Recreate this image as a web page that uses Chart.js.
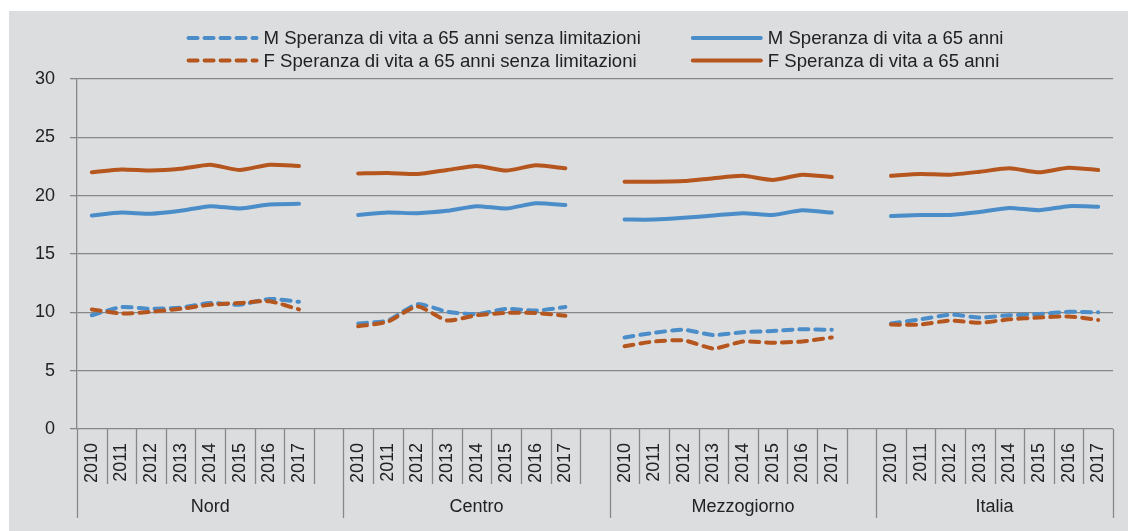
<!DOCTYPE html>
<html>
<head>
<meta charset="utf-8">
<script src="https://cdn.jsdelivr.net/npm/chart.js@4.4.0/dist/chart.umd.min.js"></script>
<style>
  html, body { margin: 0; padding: 0; background: #fff; }
  #wrap { width: 1128px; height: 531px; }
</style>
</head>
<body>
<div id="wrap"><canvas id="chart" width="1128" height="531"></canvas></div>
<script>
// data
const regions = ["Nord", "Centro", "Mezzogiorno", "Italia"];
const years = ["2010", "2011", "2012", "2013", "2014", "2015", "2016", "2017"];

const mSenzaLim = [
  [9.75, 10.45, 10.3, 10.4, 10.8, 10.65, 11.15, 10.9],
  [9.05, 9.3, 10.7, 10.05, 9.85, 10.3, 10.15, 10.45],
  [7.85, 8.25, 8.5, 8.05, 8.3, 8.4, 8.55, 8.5],
  [9.05, 9.4, 9.8, 9.55, 9.75, 9.85, 10.05, 10.0]
];
const mTotale = [
  [18.3, 18.55, 18.45, 18.7, 19.1, 18.9, 19.25, 19.3],
  [18.35, 18.55, 18.5, 18.7, 19.1, 18.9, 19.35, 19.2],
  [17.95, 17.95, 18.1, 18.3, 18.5, 18.35, 18.75, 18.55],
  [18.25, 18.35, 18.35, 18.6, 18.95, 18.75, 19.1, 19.05]
];
const fSenzaLim = [
  [10.25, 9.9, 10.05, 10.3, 10.65, 10.8, 10.95, 10.25],
  [8.8, 9.2, 10.5, 9.3, 9.75, 9.95, 9.95, 9.7],
  [7.1, 7.5, 7.6, 6.9, 7.5, 7.4, 7.5, 7.85],
  [8.95, 8.95, 9.3, 9.1, 9.4, 9.55, 9.65, 9.35]
];
const fTotale = [
  [22.0, 22.25, 22.15, 22.3, 22.65, 22.2, 22.65, 22.55],
  [21.9, 21.95, 21.85, 22.2, 22.55, 22.15, 22.6, 22.35],
  [21.2, 21.2, 21.25, 21.5, 21.7, 21.35, 21.8, 21.6],
  [21.7, 21.85, 21.8, 22.05, 22.35, 22.0, 22.4, 22.2]
];

const BLUE = "#4a8dc8";
const ORANGE = "#b6561f";
const GRID = "#878787";
const TEXT = "#222";
const FONT = '"Liberation Sans", Arial, sans-serif';

// flatten the groups, leaving an empty slot between regions
const labels = [];
regions.forEach((r, i) => {
  years.forEach(y => labels.push(y));
  if (i < regions.length - 1) labels.push("");
});
const flatten = (groups) => {
  const out = [];
  groups.forEach((g, i) => {
    g.forEach(v => out.push(v));
    if (i < groups.length - 1) out.push(null);
  });
  return out;
};

const makeSet = (label, data, color, dashed, order) => ({
  label: label,
  data: flatten(data),
  borderColor: color,
  backgroundColor: color,
  borderWidth: 4,
  borderDash: dashed ? [9, 7] : [],
  borderCapStyle: "round",
  borderJoinStyle: "round",
  pointRadius: 0,
  tension: 0.2,
  spanGaps: false,
  order: order
});

const datasets = [
  makeSet("M Speranza di vita a 65 anni senza limitazioni", mSenzaLim, BLUE, true, 1),
  makeSet("M Speranza di vita a 65 anni", mTotale, BLUE, false, 1),
  makeSet("F Speranza di vita a 65 anni senza limitazioni", fSenzaLim, ORANGE, true, 0),
  makeSet("F Speranza di vita a 65 anni", fTotale, ORANGE, false, 0)
];

// gray panel behind everything
const panelBg = {
  id: "panelBg",
  beforeDraw(chart) {
    const ctx = chart.ctx;
    ctx.save();
    ctx.fillStyle = "#fff";
    ctx.fillRect(0, 0, chart.width, chart.height);
    ctx.fillStyle = "#dcdddf";
    ctx.fillRect(9, 11, chart.width - 9, chart.height - 11);
    ctx.restore();
  }
};

// two column legend at the top
const legendGrid = {
  id: "legendGrid",
  afterDraw(chart) {
    const ctx = chart.ctx;
    const sets = chart.data.datasets;
    ctx.save();
    ctx.font = "18.6px " + FONT;
    const sample = 70, gap = 7, colGap = 50;
    const colW = [0, 1].map(c => sample + gap + Math.max(
      ctx.measureText(sets[c].label).width,
      ctx.measureText(sets[c + 2].label).width));
    const total = colW[0] + colGap + colW[1];
    const area = chart.chartArea;
    let x0 = (area.left + area.right) / 2 - total / 2;
    const rowsY = [38, 60.5];
    [0, 1].forEach(c => {
      [0, 1].forEach(r => {
        const ds = sets[r * 2 + c];
        const y = rowsY[r];
        ctx.strokeStyle = ds.borderColor;
        ctx.lineWidth = 4;
        ctx.lineCap = "round";
        ctx.setLineDash(ds.borderDash);
        ctx.beginPath();
        ctx.moveTo(x0 + 2, y);
        ctx.lineTo(x0 + sample, y);
        ctx.stroke();
        ctx.setLineDash([]);
        ctx.fillStyle = TEXT;
        ctx.textBaseline = "middle";
        ctx.textAlign = "left";
        ctx.fillText(ds.label, x0 + sample + gap, y + 1);
      });
      x0 += colW[c] + colGap;
    });
    ctx.restore();
  }
};

// year separators and region labels under the x axis
const groupAxis = {
  id: "groupAxis",
  afterDraw(chart) {
    const ctx = chart.ctx;
    const xs = chart.scales.x;
    const bottom = chart.chartArea.bottom;
    const n = labels.length;
    const w = xs.getPixelForValue(1) - xs.getPixelForValue(0);
    const edge = (i) => xs.getPixelForValue(0) + (i - 0.5) * w;
    ctx.save();
    ctx.strokeStyle = GRID;
    ctx.lineWidth = 1.3;
    for (let i = 0; i <= n; i++) {
      const long = i === 0 || i === n || labels[i - 1] === "";
      const x = Math.round(edge(i)) + 0.5;
      ctx.beginPath();
      ctx.moveTo(x, bottom);
      ctx.lineTo(x, long ? 518 : 484);
      ctx.stroke();
    }
    ctx.fillStyle = TEXT;
    ctx.font = "18px " + FONT;
    ctx.textAlign = "center";
    ctx.textBaseline = "middle";
    regions.forEach((r, k) => {
      const a = k * (years.length + 1);
      const b = k === regions.length - 1 ? n : a + years.length + 1;
      ctx.fillText(r, (edge(a) + edge(b)) / 2, 507);
    });
    ctx.restore();
  }
};

new Chart(document.getElementById("chart"), {
  type: "line",
  data: { labels: labels, datasets: datasets },
  options: {
    responsive: false,
    animation: false,
    devicePixelRatio: 1,
    layout: { padding: { top: 79, right: 15, left: 0, bottom: 0 } },
    plugins: {
      legend: { display: false },
      tooltip: { enabled: false }
    },
    scales: {
      x: {
        type: "category",
        offset: true,
        grid: { display: false },
        border: { display: false },
        ticks: {
          autoSkip: false,
          minRotation: 90,
          maxRotation: 90,
          padding: 6,
          color: TEXT,
          font: { size: 18, family: FONT }
        },
        afterFit(scale) { scale.height = 102; }
      },
      y: {
        min: 0,
        max: 30,
        ticks: {
          stepSize: 5,
          padding: 15,
          color: TEXT,
          font: { size: 18, family: FONT }
        },
        grid: { color: GRID, lineWidth: 1.3, tickLength: 7 },
        border: { color: GRID, width: 1.3 },
        afterFit(scale) { scale.width = 77; }
      }
    }
  },
  plugins: [panelBg, legendGrid, groupAxis]
});
</script>
</body>
</html>
